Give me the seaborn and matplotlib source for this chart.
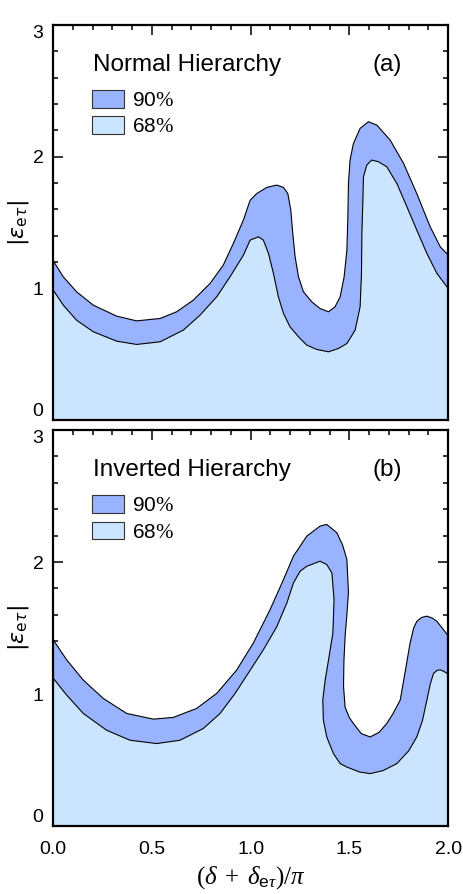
import numpy as np
import pandas as pd
import matplotlib
matplotlib.use("Agg")
import matplotlib.pyplot as plt
import seaborn as sns
from matplotlib.patches import Patch
from matplotlib.ticker import MultipleLocator, FixedLocator

# --- data: boundary curves of the allowed regions ---
# panel (a) normal hierarchy, outer = 90% edge, inner = 68% edge
nh_outer_x = [0.0, 0.051, 0.118, 0.203, 0.321, 0.422, 0.541, 0.625, 0.709, 0.794, 0.861, 0.912,
              0.963, 0.997, 1.03, 1.081, 1.132, 1.166, 1.188, 1.203, 1.213, 1.225, 1.242, 1.267,
              1.309, 1.351, 1.394, 1.427, 1.453, 1.473, 1.487, 1.492, 1.495, 1.503, 1.52, 1.554,
              1.596, 1.639, 1.706, 1.774, 1.841, 1.909, 1.96, 2.0]
nh_outer_y = [1.21, 1.088, 0.975, 0.873, 0.79, 0.754, 0.772, 0.823, 0.911, 1.038, 1.177, 1.342,
              1.52, 1.67, 1.72, 1.767, 1.785, 1.767, 1.72, 1.595, 1.418, 1.24, 1.088, 0.975,
              0.899, 0.848, 0.823, 0.861, 0.937, 1.088, 1.29, 1.544, 1.80, 1.975, 2.10, 2.215,
              2.266, 2.24, 2.127, 1.95, 1.72, 1.468, 1.316, 1.253]
nh_inner_x = [0.0, 0.051, 0.118, 0.203, 0.321, 0.422, 0.541, 0.659, 0.743, 0.828, 0.895, 0.963,
              0.997, 1.039, 1.064, 1.09, 1.115, 1.14, 1.166, 1.199, 1.242, 1.284, 1.334, 1.394,
              1.444, 1.487, 1.529, 1.554, 1.561, 1.563, 1.568, 1.571, 1.588, 1.613, 1.647, 1.689,
              1.74, 1.791, 1.841, 1.892, 1.943, 2.0]
nh_inner_y = [0.987, 0.873, 0.759, 0.671, 0.60, 0.575, 0.595, 0.684, 0.797, 0.937, 1.088, 1.253,
              1.367, 1.392, 1.367, 1.266, 1.114, 0.937, 0.81, 0.709, 0.633, 0.57, 0.537, 0.519,
              0.544, 0.582, 0.684, 0.861, 1.114, 1.418, 1.671, 1.848, 1.937, 1.975, 1.962, 1.924,
              1.797, 1.62, 1.443, 1.266, 1.114, 1.0]

# panel (b) inverted hierarchy
ih_outer_x = [0.0, 0.068, 0.152, 0.253, 0.372, 0.507, 0.608, 0.726, 0.828, 0.929, 1.013, 1.098,
              1.166, 1.216, 1.284, 1.351, 1.385, 1.436, 1.465, 1.487, 1.495, 1.487, 1.478, 1.472,
              1.47, 1.478, 1.50, 1.52, 1.56, 1.605, 1.65, 1.689, 1.72, 1.757, 1.78, 1.807,
              1.825, 1.841, 1.865, 1.892, 1.92, 1.943, 1.97, 2.0]
ih_outer_y = [1.41, 1.259, 1.106, 0.967, 0.853, 0.81, 0.823, 0.891, 1.005, 1.182, 1.386, 1.639,
              1.867, 2.044, 2.196, 2.272, 2.285, 2.222, 2.13, 2.02, 1.77, 1.60, 1.436, 1.25,
              1.06, 0.90, 0.82, 0.777, 0.70, 0.675, 0.71, 0.777, 0.85, 0.954, 1.15, 1.386,
              1.50, 1.55, 1.58, 1.59, 1.575, 1.55, 1.50, 1.44]
ih_inner_x = [0.0, 0.068, 0.152, 0.27, 0.389, 0.524, 0.642, 0.76, 0.845, 0.921, 0.997, 1.064,
              1.132, 1.183, 1.216, 1.25, 1.284, 1.351, 1.385, 1.411, 1.422, 1.416, 1.394, 1.377,
              1.365, 1.368, 1.385, 1.419, 1.453, 1.487, 1.55, 1.605, 1.67, 1.74, 1.80, 1.841,
              1.87, 1.892, 1.91, 1.926, 1.945, 1.96, 1.98, 2.0]
ih_inner_y = [1.119, 0.992, 0.853, 0.726, 0.65, 0.625, 0.65, 0.739, 0.853, 1.005, 1.18, 1.335,
              1.51, 1.69, 1.84, 1.93, 1.968, 2.006, 1.981, 1.918, 1.715, 1.461, 1.258, 1.106,
              0.954, 0.802, 0.675, 0.549, 0.473, 0.447, 0.41, 0.397, 0.42, 0.473, 0.57, 0.675,
              0.80, 0.954, 1.08, 1.157, 1.18, 1.183, 1.17, 1.15]

panels = [
    ("Normal Hierarchy", "(a)", nh_outer_x, nh_outer_y, nh_inner_x, nh_inner_y),
    ("Inverted Hierarchy", "(b)", ih_outer_x, ih_outer_y, ih_inner_x, ih_inner_y),
]
levels = ["90", "68"]
colors = ["#99b3ff", "#cce5ff"]

XMIN, XMAX, YMIN, YMAX = 0.0, 2.0, 0.0, 3.0

sns.set_theme(style="ticks")
plt.rcParams["font.family"] = ["Liberation Sans", "DejaVu Sans"]
plt.rcParams["text.color"] = "black"
plt.rcParams["axes.labelcolor"] = "black"
plt.rcParams["mathtext.fontset"] = "custom"
plt.rcParams["mathtext.rm"] = "Liberation Serif"
plt.rcParams["mathtext.it"] = "Liberation Serif:italic"
plt.rcParams["mathtext.sf"] = "Liberation Sans"

fig = plt.figure(figsize=(4.63, 8.94), dpi=100)
ax_a = fig.add_axes([0.115, 0.530, 0.853, 0.442])
ax_b = fig.add_axes([0.115, 0.076, 0.853, 0.443])

for ax, (title, tag, ox, oy, ix, iy) in zip([ax_a, ax_b], panels):
    # filled regions: 90% band sits under the 68% region
    ax.fill(np.r_[ox, XMAX, XMIN], np.r_[oy, YMIN - 0.5, YMIN - 0.5], color=colors[0], lw=0)
    ax.fill(np.r_[ix, XMAX, XMIN], np.r_[iy, YMIN - 0.5, YMIN - 0.5], color=colors[1], lw=0)
    for cx, cy in [(ox, oy), (ix, iy)]:
        d = pd.DataFrame({"x": cx, "y": cy})
        sns.lineplot(data=d, x="x", y="y", sort=False, estimator=None, color="black",
                     lw=0.8, ax=ax)

    ax.set_xlim(XMIN, XMAX)
    ax.set_ylim(YMIN, YMAX)
    ax.xaxis.set_major_locator(MultipleLocator(0.5))
    ax.xaxis.set_minor_locator(MultipleLocator(0.1))
    ax.yaxis.set_major_locator(FixedLocator([0, 1, 2, 3]))
    ax.yaxis.set_minor_locator(MultipleLocator(0.2))
    ax.tick_params(which="both", direction="in", top=True, right=True, width=1.1,
                   labelsize=14, colors="black")
    ax.tick_params(which="major", length=7)
    ax.tick_params(which="minor", length=3.5)
    ax.tick_params(axis="y", pad=7)
    for s in ax.spines.values():
        s.set_linewidth(1.6)
        s.set_color("black")
    ax.set_yticklabels(["0", "1", "2", "3"])
    yt = ax.yaxis.get_major_ticks()
    yt[0].label1.set_verticalalignment("bottom")
    yt[-1].label1.set_verticalalignment("top")

    ax.set_ylabel(r"$|\epsilon_{\mathrm{e}\tau}|$", fontsize=16, labelpad=1,
                  math_fontfamily="dejavusans")
    ax.set_xlabel("")
    ax.text(0.2, 2.70, title, fontsize=17.5, va="center", ha="left")
    ax.text(1.69, 2.70, tag, fontsize=17.5, va="center", ha="center")

    handles = [Patch(facecolor=colors[0], edgecolor="#333333", lw=0.8),
               Patch(facecolor=colors[1], edgecolor="#333333", lw=0.8)]
    labels = [lv + r"$\mathit{\%}$" for lv in levels]
    ax.legend(handles, labels, loc="upper left", bbox_to_anchor=(0.099, 0.835),
              frameon=False, fontsize=15, handlelength=1.5, handleheight=0.92,
              handletextpad=0.4, labelspacing=0.3, borderpad=0, borderaxespad=0)

ax_a.tick_params(axis="x", labelbottom=False)
ax_b.set_xticks([0.0, 0.5, 1.0, 1.5, 2.0])
ax_b.set_xticklabels(["0.0", "0.5", "1.0", "1.5", "2.0"])
ax_b.tick_params(axis="x", pad=11)
ax_b.set_xlabel(r"$(\delta\;+\;\delta_{\mathsf{e}\tau})/\pi$", fontsize=18, labelpad=4)

fig.savefig("out.png", dpi=100)
